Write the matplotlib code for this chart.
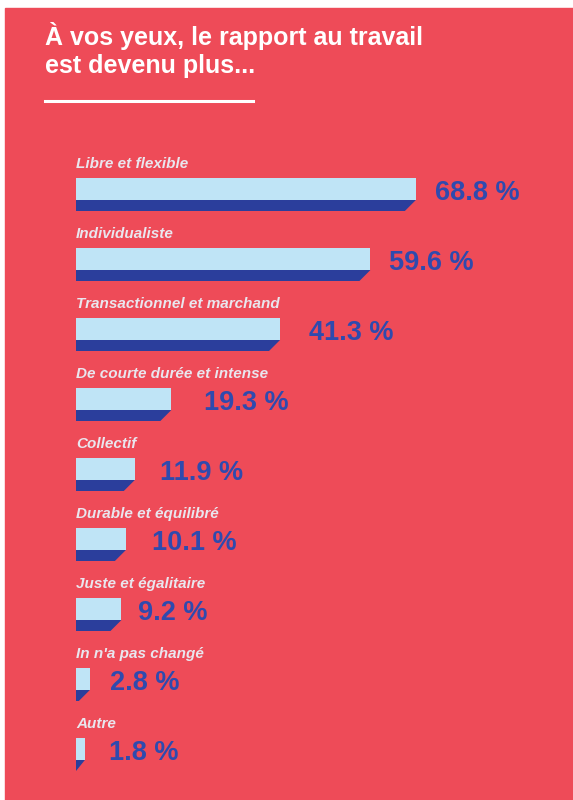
import matplotlib
matplotlib.use("Agg")
import matplotlib.pyplot as plt
from matplotlib.patches import Polygon, Rectangle

# data
labels = [
    "Libre et flexible",
    "Individualiste",
    "Transactionnel et marchand",
    "De courte durée et intense",
    "Collectif",
    "Durable et équilibré",
    "Juste et égalitaire",
    "In n'a pas changé",
    "Autre",
]
values = [68.8, 59.6, 41.3, 19.3, 11.9, 10.1, 9.2, 2.8, 1.8]
value_labels = ["68.8 %", "59.6 %", "41.3 %", "19.3 %", "11.9 %",
                "10.1 %", "9.2 %", "2.8 %", "1.8 %"]
title = "À vos yeux, le rapport au travail\nest devenu plus..."

RED = "#EE4B58"
LIGHT = "#BFE4F6"
DARK = "#2B3E9C"
VALC = "#2F4AAE"
LABC = "#E9E6EE"

W, H = 573, 800
S = 4.94          # pixels per percent point
X0 = 76           # bar left edge [px]
ROW0, ROWSTEP = 178, 70
H_LIGHT, H_DARK = 22, 11
# the original places the value labels by hand, gap after bar end [px]
GAP = [19, 19, 29, 33, 25, 26, 17, 20, 24]

plt.rcParams["font.family"] = ["Liberation Sans", "DejaVu Sans"]

fig = plt.figure(figsize=(W / 100, H / 100), dpi=100, facecolor="white")
fig.patches.append(Rectangle((5 / W, 0), 1 - 5 / W, 1 - 8 / H,
                             transform=fig.transFigure, color=RED, zorder=-1))

ax = fig.add_axes([0, 0, 1, 1])
ax.set_xlim(-X0 / S, (W - X0) / S)
ax.set_ylim(H, 0)
ax.axis("off")

for i, (lab, v, vl) in enumerate(zip(labels, values, value_labels)):
    top = ROW0 + ROWSTEP * i
    ax.text(0, top - 10, lab, color=LABC, fontsize=11, fontweight="bold",
            fontstyle="italic", va="baseline", ha="left")
    ax.add_patch(Rectangle((0, top), v, H_LIGHT, color=LIGHT, lw=0))
    ch = min(H_DARK / S, v)
    dark = Polygon([(0, top + H_LIGHT), (v, top + H_LIGHT),
                    (v - ch, top + H_LIGHT + H_DARK), (0, top + H_LIGHT + H_DARK)],
                   closed=True, color=DARK, lw=0)
    ax.add_patch(dark)
    ax.text(v + GAP[i] / S, top + 22, vl, color=VALC, fontsize=19.5,
            fontweight="bold", va="baseline", ha="left")

fig.text(45 / W, 1 - 45 / H, title.split("\n")[0], color="white",
         fontsize=18, fontweight="bold", va="baseline", ha="left")
fig.text(45 / W, 1 - 73 / H, title.split("\n")[1], color="white",
         fontsize=18, fontweight="bold", va="baseline", ha="left")
fig.lines.append(plt.Line2D([45 / W, 253 / W], [1 - 101 / H, 1 - 101 / H],
                            transform=fig.transFigure, color="white", lw=2.2))

fig.savefig("out.png", dpi=100, facecolor=fig.get_facecolor())
